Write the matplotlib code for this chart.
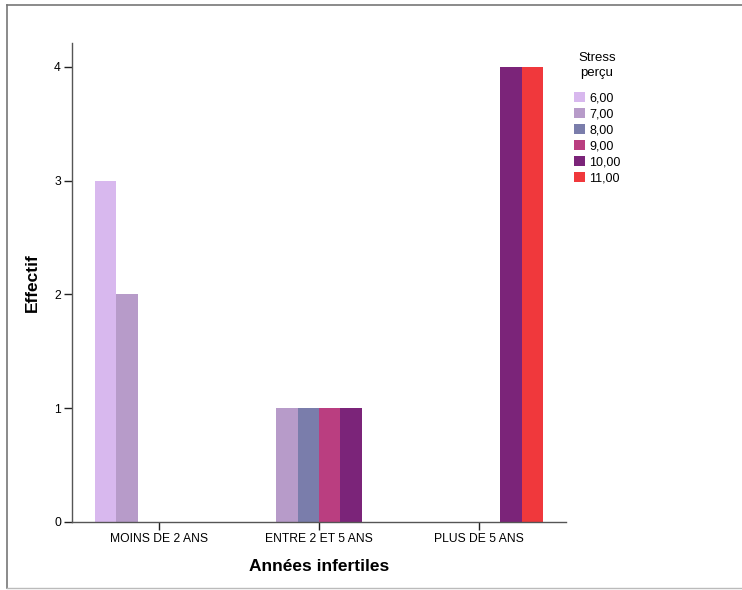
import matplotlib.pyplot as plt
from matplotlib.lines import Line2D
from matplotlib.patches import Patch
import numpy as np

plt.rcParams['font.family'] = ['Liberation Sans', 'DejaVu Sans']

categories = ["MOINS DE 2 ANS", "ENTRE 2 ET 5 ANS", "PLUS DE 5 ANS"]
series = ["6,00", "7,00", "8,00", "9,00", "10,00", "11,00"]
counts = [
    [3, 0, 0],
    [2, 1, 0],
    [0, 1, 0],
    [0, 1, 0],
    [0, 1, 4],
    [0, 0, 4],
]
colors = ["#D8B8EE", "#B79BC9", "#7A7DAB", "#BA3E80", "#7B2479", "#F0383C"]

fig = plt.figure(figsize=(7.42, 5.9), dpi=100)
ax = fig.add_axes([72 / 742, 68 / 590, (566 - 72) / 742, (522 - 43) / 590])

x = np.arange(len(categories))
w = 0.134
for i, (name, vals) in enumerate(zip(series, counts)):
    vals = np.array(vals, dtype=float)
    mask = vals > 0
    ax.bar(x[mask] + (i - 2.5) * w, vals[mask], width=w, color=colors[i],
           linewidth=0)

ax.set_xlim(-0.544, 2.544)
ax.set_ylim(0, 4.21)
ax.set_yticks([0, 1, 2, 3, 4])
ax.set_xticks(x)
ax.set_xticklabels(categories)
ax.tick_params(axis='both', labelsize=8.7, length=6, width=1, color="#222222",
               direction='out', pad=2)
for s in ["top", "right"]:
    ax.spines[s].set_visible(False)
for s in ["left", "bottom"]:
    ax.spines[s].set_color("#555555")
    ax.spines[s].set_linewidth(1)

ax.set_xlabel("Années infertiles", fontsize=12.5, fontweight='bold', labelpad=10)
ax.set_ylabel("Effectif", fontsize=12.5, fontweight='bold', labelpad=10)

# legend
fig.text(597 / 742, 1 - 52 / 590, "Stress\nperçu", ha='center', va='top',
         fontsize=9.5, linespacing=1.35)
handles = [Patch(facecolor=c, edgecolor='none') for c in colors]
fig.legend(handles, series, loc='upper left',
           bbox_to_anchor=(565 / 742, 1 - 83 / 590), frameon=False,
           fontsize=9, handlelength=0.9, handleheight=0.9, handletextpad=0.35,
           labelspacing=0.28, borderpad=0.2)

# outer frame
fig.add_artist(Line2D([7 / 742, 1], [1 - 5 / 590, 1 - 5 / 590],
                      color="#777777", lw=1.2, transform=fig.transFigure))
fig.add_artist(Line2D([7 / 742, 7 / 742], [1 - 5 / 590, 2 / 590],
                      color="#777777", lw=1.2, transform=fig.transFigure))
fig.add_artist(Line2D([7 / 742, 1], [2 / 590, 2 / 590],
                      color="#BBBBBB", lw=1.0, transform=fig.transFigure))

fig.savefig("out.png", dpi=100)
